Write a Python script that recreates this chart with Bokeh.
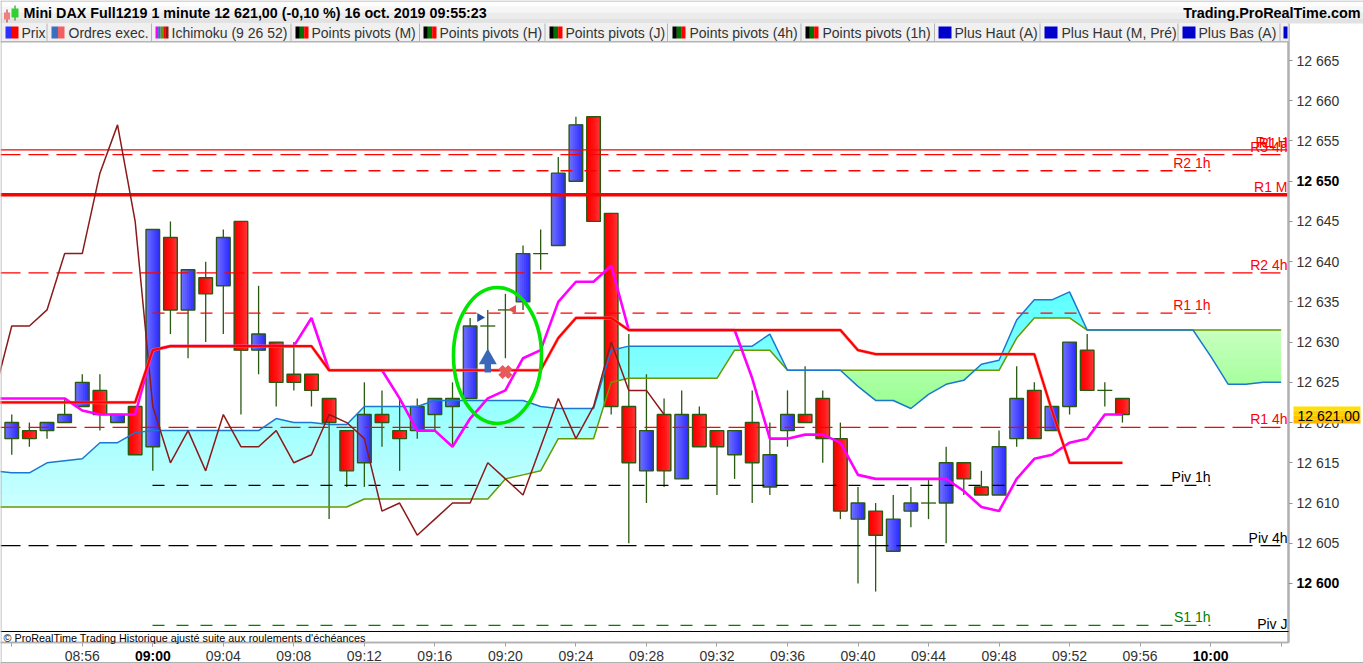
import numpy as np
from bokeh.plotting import figure
from bokeh.models import Range1d, LinearAxis, FixedTicker, Label, BoxAnnotation
from bokeh.embed import file_html
from bokeh.resources import INLINE

# ---------- data ----------
minutes = list(range(-8, 56))
opens = [12618,12619,12619,12620,12622,12624,12620,12622,12617,12643,12634,12638,12637,12645,12629,12630,
         12626,12626,12623,12619,12615,12621,12619,12619,12621,12622,12623,12632,12634,12635,12641,12642,
         12650,12658,12646,12622,12614,12621,12613,12621,12619,12616,12620,12612,12619,12621,12623,12618,
         12608,12609,12604,12609,12610,12610,12615,12612,12611,12618,12624,12619,12622,12629,12624,12623]
highs = [12621,12620,12620,12623,12626,12626,12621,12622,12644,12645,12639,12640,12644,12645,12637,12630,
         12630,12626,12623,12619,12625,12624,12623,12623,12623,12625,12633,12634,12636,12642,12644,12653,
         12658,12658,12646,12631,12626,12623,12624,12622,12619,12619,12624,12620,12624,12627,12624,12620,
         12612,12610,12611,12612,12613,12617,12615,12614,12619,12627,12625,12622,12630,12631,12625,12623]
lows = [12616,12617,12618,12620,12622,12619,12620,12616,12614,12631,12628,12630,12631,12621,12626,12622,
        12624,12622,12608,12612,12612,12617,12614,12618,12619,12617,12623,12629,12628,12634,12639,12642,
        12650,12645,12621,12605,12610,12612,12613,12617,12611,12613,12610,12611,12617,12620,12615,12608,
        12600,12599,12604,12607,12608,12605,12611,12611,12611,12617,12618,12619,12621,12624,12622,12620]
closes = [12620,12618,12620,12621,12625,12621,12621,12616,12644,12634,12639,12636,12643,12629,12631,12625,
          12625,12624,12620,12614,12621,12620,12618,12622,12623,12623,12632,12632,12634,12641,12641,12651,
          12657,12645,12622,12615,12619,12614,12621,12617,12617,12619,12615,12616,12621,12620,12618,12609,
          12610,12606,12608,12610,12610,12615,12613,12611,12617,12623,12618,12622,12630,12624,12624,12621]

line_minutes = list(range(-9, 65))
tenkan = [12623,12623,12623,12623,12623,12621.5,12621,12621,12621,12629,12629.5,12629.5,12629.5,12629.5,12629.5,
          12629.5,12629.5,12629.5,12633,12626.5,12626.5,12626.5,12626.5,12623,12619,12619,12617,12620.5,12623,
          12624,12628,12629,12635,12637.5,12637.5,12639.5,12631.5,12631.5,12631.5,12631.5,12631.5,12631.5,
          12631.5,12625.5,12618,12618,12618.5,12618.5,12617.5,12613.5,12613,12613,12613,12613,12613,
          12611.5,12609.5,12609,12613,12615.5,12616,12617.5,12618,12621,12621]
kijun = [12622.5,12622.5,12622.5,12622.5,12622.5,12622.5,12622.5,12622.5,12622.5,12629,12629.5,12629.5,12629.5,
         12629.5,12629.5,12629.5,12629.5,12629.5,12629.5,12626.5,12626.5,12626.5,12626.5,12626.5,12626.5,12626.5,
         12626.5,12626.5,12626.5,12626.5,12626.5,12626.5,12630.5,12633,12633,12633,12631.5,12631.5,12631.5,
         12631.5,12631.5,12631.5,12631.5,12631.5,12631.5,12631.5,12631.5,12631.5,12631.5,12629,12628.5,12628.5,
         12628.5,12628.5,12628.5,12628.5,12628.5,12628.5,12628.5,12628.5,12621.5,12615,12615,12615,12615]
chikou = [12623.5,12632,12632,12634,12641,12641,12651,12657,12645,12622,12615,12619,12614,12621,12617,12617,
          12619,12615,12616,12621,12620,12618,12609,12610,12606,12608,12610,12610,12615,12613,12611,12617,
          12623,12618,12622,12630,12624,12624,12621]
span_a = [12614,12613.75,12613.75,12615,12615.25,12615.5,12617.5,12617.5,12618.75,12619,12619,12619,12619,12619,
          12619,12619,12620.5,12620,12620,12619.75,12619.75,12622,12622,12622,12622,12622.75,12622.75,12622.75,
          12622.75,12622.75,12622.75,12622,12621.75,12621.75,12621.75,12629,12629.5,12629.5,12629.5,12629.5,
          12629.5,12629.5,12629.5,12629.5,12631,12626.5,12626.5,12626.5,12626.5,12624.5,12622.75,12622.75,
          12621.75,12623.5,12624.75,12625.25,12627.25,12627.75,12632.75,12635.25,12635.25,12636.25,12631.5,
          12631.5,12631.5,12631.5,12631.5,12631.5,12631.5,12628.25,12624.75,12624.75,12625,12625]
span_b = [12609.5,12609.5,12609.5,12609.5,12609.5,12609.5,12609.5,12609.5,12609.5,12609.5,12609.5,12609.5,12609.5,
          12609.5,12609.5,12609.5,12609.5,12609.5,12609.5,12609.5,12609.5,12610.5,12610.5,12610.5,12610.5,12610.5,
          12610.5,12610.5,12610.5,12613,12613.5,12614,12618,12618,12618,12625,12625.5,12625.5,12625.5,12625.5,
          12625.5,12625.5,12629,12629,12629,12626.5,12626.5,12626.5,12626.5,12626.5,12626.5,12626.5,12626.5,
          12626.5,12626.5,12626.5,12626.5,12626.5,12630.5,12633,12633,12633,12631.5,12631.5,12631.5,12631.5,
          12631.5,12631.5,12631.5,12631.5,12631.5,12631.5,12631.5,12631.5]

level_names = ["R1 H", "R3 4h", "R2 1h", "R1 M", "R2 4h", "R1 1h", "R1 4h", "Piv 1h", "Piv 4h", "S1 1h"]
level_values = [12653.9, 12653.3, 12651.3, 12648.3, 12638.6, 12633.6, 12619.4, 12612.2, 12604.7, 12594.8]
level_colors = ["#ff0000", "#ff0000", "#ff0000", "#ff0000", "#ff0000", "#ff0000", "#ff0000", "#000000", "#000000", "#008000"]
level_kinds = ["solid", "4h", "1h", "thick", "4h", "1h", "4h", "1h", "4h", "1h"]

price_ticks = list(range(12600, 12670, 5))
price_bold = [12650, 12600]
time_ticks = list(range(-8, 68, 4))
time_labels = ["", "08:56", "09:00", "09:04", "09:08", "09:12", "09:16", "09:20", "09:24", "09:28", "09:32",
               "09:36", "09:40", "09:44", "09:48", "09:52", "09:56", "10:00", ""]
time_bold = [0, 60]

tab_names = ["Prix", "Ordres exec.", "Ichimoku (9 26 52)", "Points pivots (M)", "Points pivots (H)", "Points pivots (J)",
             "Points pivots (4h)", "Points pivots (1h)", "Plus Haut (A)", "Plus Haut (M, Pré)", "Plus Bas (A)"]
tab_icons = [["#3030ff", "#ff0000"], ["#3a6fc0", "#f06060"], ["#ff00ff", "#3a6fc0", "#669900", "#ff0000", "#8b1a1a"],
             ["#000000", "#007000", "#ff0000"], ["#000000", "#007000", "#ff0000"], ["#000000", "#007000", "#ff0000"],
             ["#000000", "#007000", "#ff0000"], ["#000000", "#007000", "#ff0000"], ["#0000cc"], ["#0000cc"], ["#0000cc"]]
title_text = "Mini DAX Full1219 1 minute 12 621,00 (-0,10 %) 16 oct. 2019 09:55:23"
brand_text = "Trading.ProRealTime.com"
note_text = "© ProRealTime Trading  Historique ajusté suite aux roulements d'échéances"
last_text = "12 621,00"

# ---------- layout: window pixels X,Y of the reference -> data ----------
PX_MIN, X0 = 17.63, 152.3
PX_PT, Y0, V0 = 8.046, 60.0, 12665.0
def dx(X): return (X - X0) / PX_MIN
def dy(Y): return V0 - (Y - Y0) / PX_PT
WIDTH, HEIGHT, FR, FT, FB, AX = 1363, 663, 1288, 42, 631, 642

p = figure(width=WIDTH, height=HEIGHT, output_backend="svg", toolbar_location=None,
           x_range=Range1d(dx(0), dx(WIDTH)), y_range=Range1d(dy(HEIGHT), dy(0)),
           x_axis_location=None, y_axis_location=None,
           min_border_left=0, min_border_right=0, min_border_top=0, min_border_bottom=0,
           background_fill_color="white", border_fill_color="white")
p.outline_line_color = None
p.grid.visible = False

FONT = "Liberation Sans"
def price_axis(ticks, labels, bold):
    ax = LinearAxis(ticker=FixedTicker(ticks=ticks), major_label_overrides=labels, fixed_location=dx(FR),
                    bounds=(dy(AX), dy(23)), axis_line_color="#b0b0b0", axis_line_width=2,
                    major_tick_line_color="#909090", major_tick_in=0, major_tick_out=4, minor_tick_line_color=None,
                    major_label_standoff=4, major_label_text_font=FONT, major_label_text_font_size="14px",
                    major_label_text_color="#000000" if bold else "#333333",
                    major_label_text_font_style="bold" if bold else "normal")
    p.add_layout(ax, "right")
def time_axis(ticks, labels, bold):
    ax = LinearAxis(ticker=FixedTicker(ticks=ticks), major_label_overrides=labels, fixed_location=dy(AX),
                    bounds=(dx(0), dx(FR)), axis_line_color="#b0b0b0", axis_line_width=1.5,
                    major_tick_line_color="#a0a0a0", major_tick_in=0, major_tick_out=4, minor_tick_line_color=None,
                    major_label_standoff=1, major_label_text_font=FONT, major_label_text_font_size="14px",
                    major_label_text_color="#000000" if bold else "#333333",
                    major_label_text_font_style="bold" if bold else "normal")
    p.add_layout(ax, "below")
plain_prices = [t for t in price_ticks if t not in price_bold]
price_axis(plain_prices, {t: f"12 {t - 12000:03d}" for t in plain_prices}, False)
price_axis(price_bold, {t: f"12 {t - 12000:03d}" for t in price_bold}, True)
time_axis(time_ticks, {t: ("" if t in time_bold else s) for t, s in zip(time_ticks, time_labels)}, False)
time_axis(time_bold, {t: s for t, s in zip(time_ticks, time_labels) if t in time_bold}, True)

# ---------- Ichimoku cloud (vertical colour gradient painted in bands) ----------
fine = np.arange(line_minutes[0], line_minutes[-1] + 0.025, 0.05)
a = np.interp(fine, line_minutes, span_a)
b = np.interp(fine, line_minutes, span_b)
for v in np.arange(12609, 12638, 1.0):
    r = int(np.clip(200 - (v - 12610) * 4.16, 90, 205))
    low = np.clip(np.where(a >= b, b, v), v, v + 1.2)
    up = np.clip(np.where(a >= b, a, v), v, v + 1.2)
    p.varea(fine, low, up, fill_color=f"#{r:02x}ffff")
for v in np.arange(12621, 12633, 1.0):
    r = int(np.clip(160 + (v - 12623) * 5, 150, 205))
    low = np.clip(np.where(b > a, a, v), v, v + 1.2)
    up = np.clip(np.where(b > a, b, v), v, v + 1.2)
    p.varea(fine, low, up, fill_color=f"#{r:02x}ff{r - 8:02x}")

# ---------- candles ----------
m = np.array(minutes, float)
o, h, l, c = map(lambda s: np.array(s, float), (opens, highs, lows, closes))
WICK = "#2a5a12"
p.segment(m, h, m, l, line_color=WICK, line_width=1.3)
body = 13.6 / PX_MIN
is_up = c > o
is_dn = c < o
doji = c == o
top = np.maximum(o, c); bot = np.minimum(o, c)
blues = ["#6c6cff", "#6262ff", "#5858ff", "#4e4eff", "#4444ff", "#3a3aff", "#3030ff"]
reds = ["#ff0000", "#ff0606", "#ff0c0c", "#ff1414", "#ff1c1c", "#ff2828", "#ff3434"]
for i in range(7):
    left_edge = -body / 2 + i * body / 7
    width = body - i * body / 7
    p.vbar(m[is_up] + left_edge + width / 2, width, bot[is_up], top[is_up], fill_color=blues[i], line_color=None)
    p.vbar(m[is_dn] + left_edge + width / 2, width, bot[is_dn], top[is_dn], fill_color=reds[i], line_color=None)
mask = ~doji
p.vbar(m[mask], body, bot[mask], top[mask], fill_color=None, line_color=WICK, line_width=1.4)
p.segment(m[doji] - 7.5 / PX_MIN, o[doji], m[doji] + 7.5 / PX_MIN, o[doji], line_color=WICK, line_width=1.3)

# ---------- pivot levels ----------
x_left, x_right, x_1h = dx(0), dx(FR - 1), dx(1210)
for name, val, col, kind in zip(level_names, level_values, level_colors, level_kinds):
    x0 = dx(152) if kind == "1h" else x_left
    x1 = x_1h if kind == "1h" else x_right
    dash = {"1h": "12 12", "4h": "20 8"}.get(kind, "solid")
    p.segment([x0], [val], [x1], [val], line_color=col, line_width=3.5 if kind == "thick" else 1.3, line_dash=dash)

# ---------- Ichimoku lines ----------
lm = np.array(line_minutes, float)
p.line(lm, span_b, line_color="#669900", line_width=1.5)
p.line(lm, span_a, line_color="#1a78d0", line_width=1.5)
p.line(lm[:len(chikou)], chikou, line_color="#8b1a1a", line_width=1.5)
p.line(lm[:len(tenkan)], tenkan, line_color="#ff00ff", line_width=2.6)
p.line(lm[:len(kijun)], kijun, line_color="#ff8080", line_width=3.4, line_alpha=0.6)
p.line(lm[:len(kijun)], kijun, line_color="#ff0000", line_width=2.2)

# ---------- trade markers and highlight ----------
ARROW = "#3a68b8"
ax_m = 19.0
p.vbar([ax_m], 6.5 / PX_MIN, [dy(372)], [dy(362)], fill_color=ARROW, line_color=None)
p.scatter([ax_m], [dy(358.5)], marker="triangle", size=18, fill_color=ARROW, line_color=None)
p.scatter([20.0], [dy(371.5)], marker="x", size=14, line_color="#e85a5a", line_width=6)
p.scatter([18.55], [dy(317)], marker="triangle", size=9, angle=-np.pi / 2, fill_color="#1f4f9f", line_color=None)
p.scatter([20.45], [dy(309)], marker="triangle", size=9, angle=np.pi / 2, fill_color="#e85050", line_color=None)
p.ellipse([19.55], [dy(355)], width=88 / PX_MIN, height=136 / PX_PT, fill_color=None, line_color="#00e600", line_width=3.6)

# ---------- chrome, in canvas pixels ----------
def box(X1, X2, Y1, Y2, color):
    p.add_layout(BoxAnnotation(left=X1, right=X2, top=Y1, bottom=Y2, left_units="canvas", right_units="canvas",
                               top_units="canvas", bottom_units="canvas", fill_color=color, fill_alpha=1,
                               line_color=None))
def text(X, Y, s, size=14, color="#333333", style="normal", align="left"):
    p.add_layout(Label(x=X, y=Y, x_units="canvas", y_units="canvas", text=s, text_font=FONT,
                       text_font_size=f"{size}px", text_color=color,
                       text_font_style=style, text_align=align, text_baseline="middle"))

for Y1, Y2, col in [(1, 6, "#fdfdfd"), (6, 12, "#f6f6f6"), (12, 18, "#ececec"), (18, 23, "#e2e2e2")]:
    box(0, WIDTH, Y1, Y2, col)
box(0, WIDTH, 0, 1, "#b0b0b0")
box(0, FR, 23, 41, "#f0f0f0")
box(0, FR, 40.5, 42, "#b4b4b4")
box(0, FR, FB - 0.5, FB + 0.5, "#000000")
box(0, WIDTH, 661.5, 663, "#b0b0b0")
box(0, 1, 0, 663, "#b0b0b0")

tab_text_x = [21, 68, 171, 311, 439, 565, 689, 822, 954, 1061, 1198]
tab_icon_x = [5, 51, 155, 295, 423, 549, 672, 805, 938, 1044, 1182]
tab_sep_x = [46, 150.5, 290, 418.5, 544, 666.5, 800, 933.5, 1039, 1177, 1279]
for name, cols, tx, ix, sx in zip(tab_names, tab_icons, tab_text_x, tab_icon_x, tab_sep_x):
    w = 13 / len(cols)
    for i, col in enumerate(cols):
        box(ix + i * w, ix + (i + 1) * w, 26, 38, col)
    text(tx, 32.5, name)
    box(sx, sx + 1, 23, 41, "#b4b4b4")
box(1283, 1287, 26, 38, "#0000cc")

# title bar
box(14, 15, 5, 20, "#1a7a1a"); box(11, 18, 8, 17, "#30d030")
box(6, 7, 9, 22, "#a02020"); box(3.5, 9.5, 12, 19, "#f08080")
text(23, 12, title_text, size=14.3, color="#000000", style="bold")
text(1360, 12, brand_text, size=14.4, color="#000000", style="bold", align="right")

# level labels
for name, val, col, kind in zip(level_names, level_values, level_colors, level_kinds):
    end = 1210 if kind == "1h" else 1287
    text(end, Y0 + (V0 - val) * PX_PT - 8, name, color=col, align="right")
text(1287, 142, "R1 J", color="#ff0000", align="right")
text(1287, 623, "Piv J", color="#000000", align="right")

# footer and price tag
text(3, 637, note_text, size=10.8, color="#000000")
for Y1, Y2, col in [(406, 410, "#ffe000"), (410, 415, "#ffd000"), (415, 419, "#ffc400"), (419, 423, "#ffb400")]:
    box(1293, 1360, Y1, Y2, col)
text(1297, 415, last_text, color="#000000")

open("out.html", "w").write(file_html(p, INLINE))
